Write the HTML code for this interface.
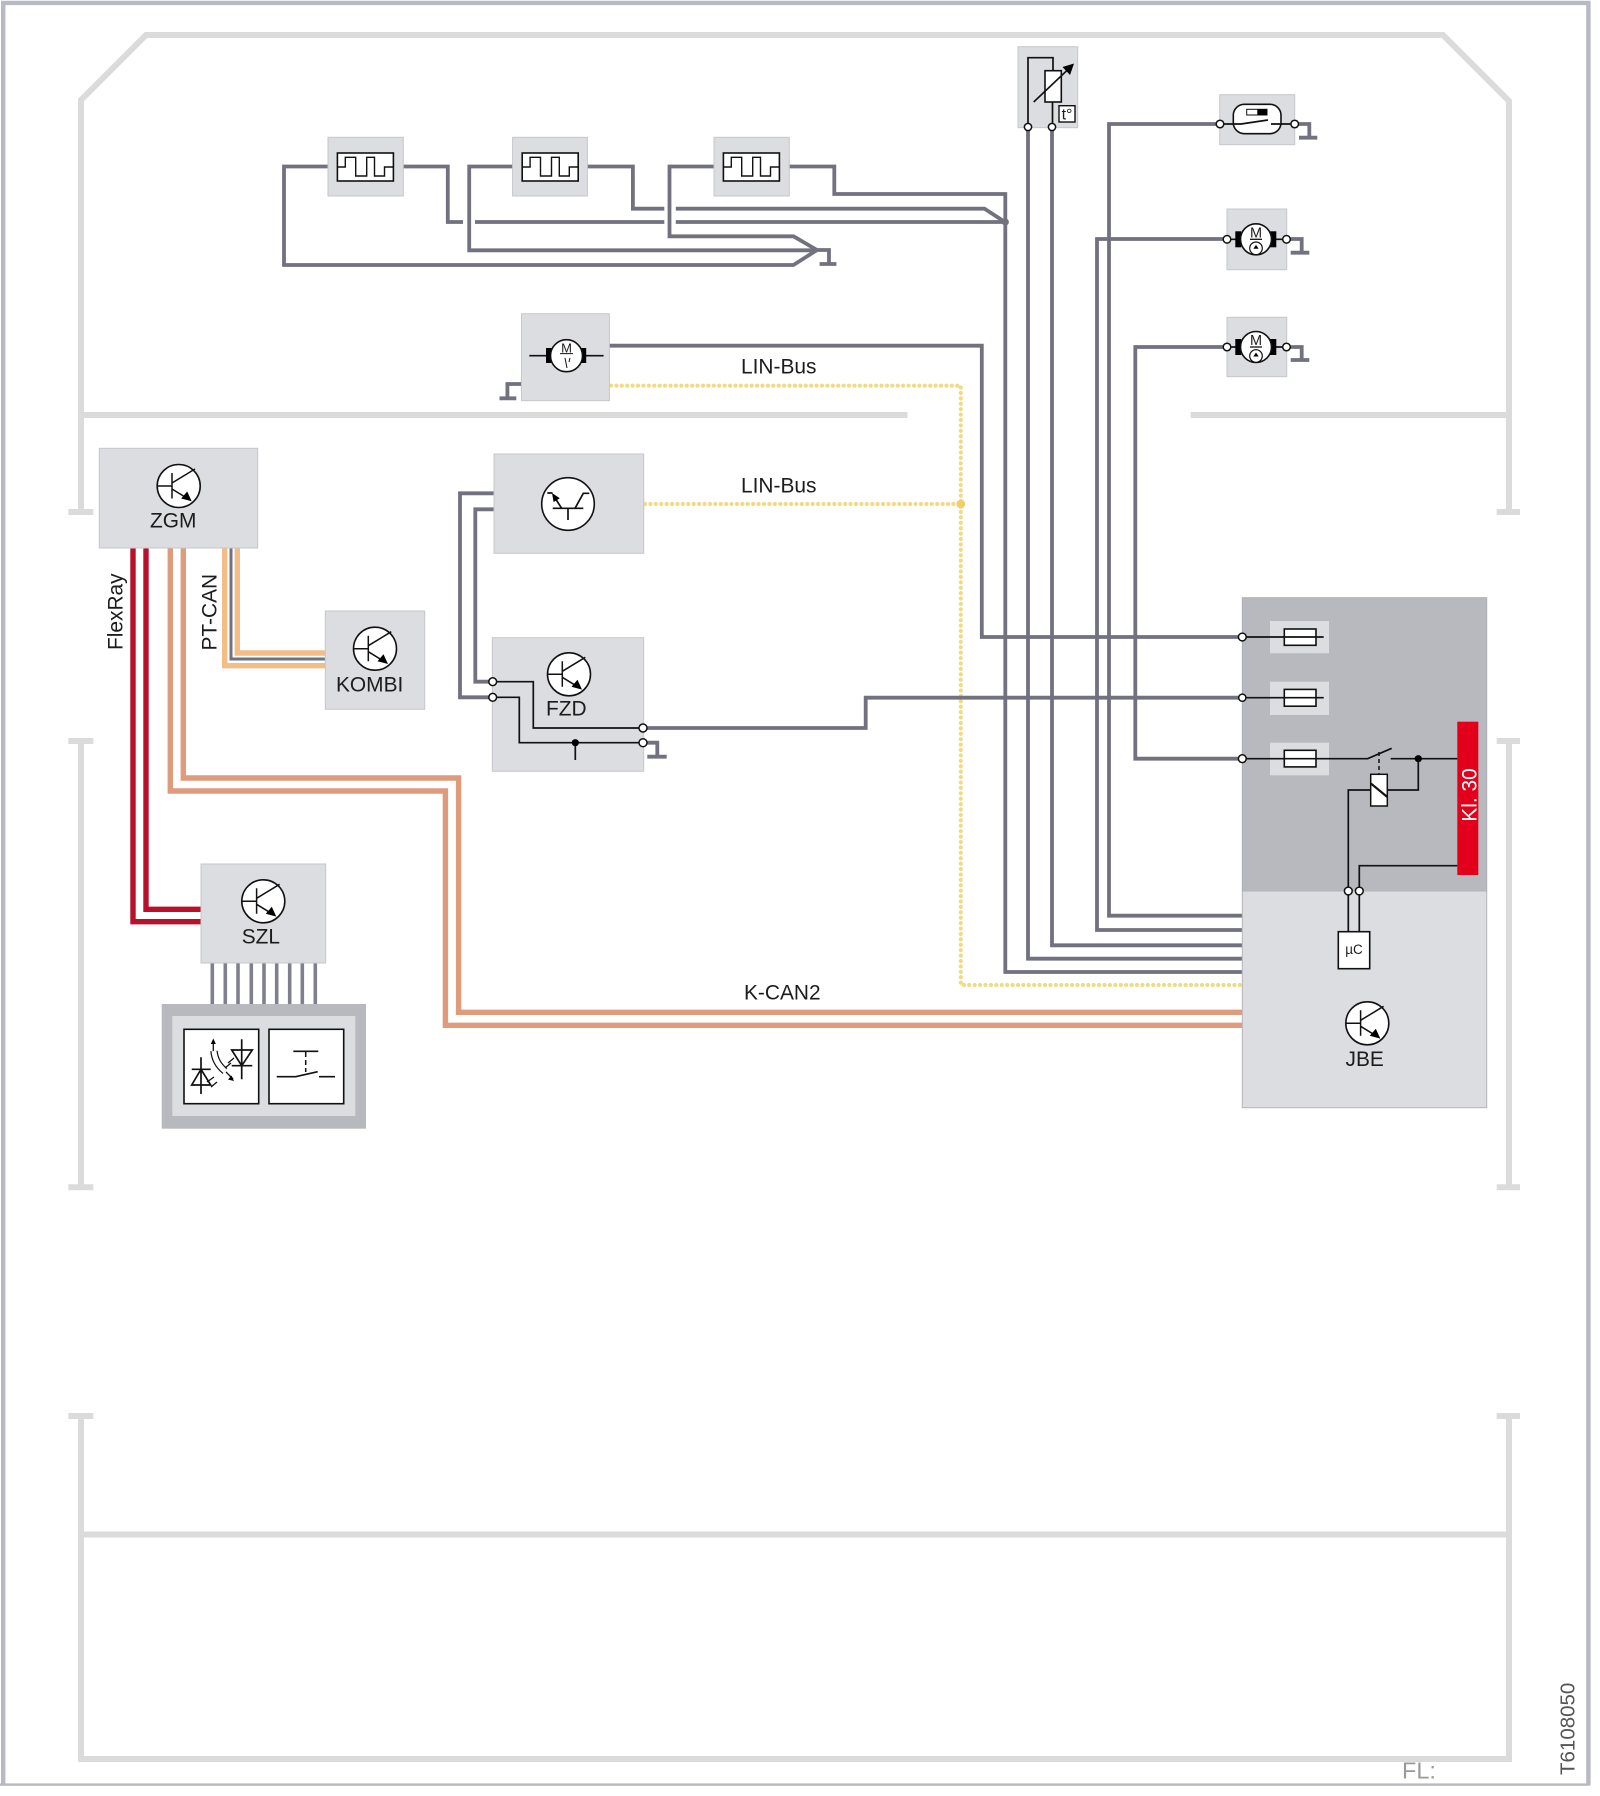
<!DOCTYPE html>
<html>
<head>
<meta charset="utf-8">
<style>
html,body{margin:0;padding:0;background:#fff;width:1600px;height:1796px;overflow:hidden}
svg{display:block}
text{font-family:"Liberation Sans",sans-serif;fill:#1c1c1c;font-size:20.9px}
.w{fill:none;stroke:#71717f;stroke-width:3.8;stroke-linejoin:miter}
.f{fill:none;stroke:#dadbda;stroke-width:6}
.k{fill:none;stroke:#111;stroke-width:1.7}
.b{fill:#dcdde1;stroke:#c6c7cb;stroke-width:1}
.n{fill:#fff;stroke:#111;stroke-width:1.5}
.y{fill:none;stroke:#f3d97f;stroke-width:4.2;stroke-linecap:round;stroke-dasharray:.01 5.4}
.fr{fill:none;stroke:#b8112c;stroke-width:5.4}
.or{fill:none;stroke:#e09a7c;stroke-width:5.4}
.pt{fill:none;stroke:#f2bd87;stroke-width:5.4}
</style>
</head>
<body>
<svg width="1600" height="1796" viewBox="0 0 1600 1796" xmlns="http://www.w3.org/2000/svg">
<defs>
<g id="tr">
<circle r="21.5" fill="#fff" stroke="#111" stroke-width="1.6"/>
<path d="M-21.5 0H-6.7M-6.7 -13V12.5M-6.7 -3L16.3 -17M-6.7 3L8 12" fill="none" stroke="#111" stroke-width="1.5"/>
<polygon points="13,15.3 2.5,12.5 8.5,5.5" fill="#000"/>
</g>
<g id="pw">
<rect x="0" y="0" width="56" height="28" fill="#fff" stroke="#111" stroke-width="1.6"/>
<path d="M0 14H7.9V4.3H18.3V23H29.3V4.3H37.1V23H47.1V14H56" fill="none" stroke="#111" stroke-width="1.4"/>
</g>
<g id="mo">
<rect x="-20.7" y="-8" width="6" height="16" fill="#000"/>
<rect x="14" y="-8" width="6.3" height="16" fill="#000"/>
<circle r="15.5" fill="#fff" stroke="#111" stroke-width="1.6"/>
<text x="0" y="-2" text-anchor="middle" style="font-size:14.5px">M</text>
<path d="M-6 0H6" stroke="#111" stroke-width="1.3"/>
<circle cx="0" cy="9" r="6.3" fill="#fff" stroke="#111" stroke-width="1.2"/>
<polygon points="0,5.5 -2.6,9.5 2.6,9.5" fill="#000"/>
</g>
</defs>

<!-- outer border -->
<path d="M3.2 1V1785M1 2.9H1590M1588.4 1V1785" fill="none" stroke="#b8b9c5" stroke-width="4.4"/>
<rect x="0" y="1783.4" width="1590" height="2.4" fill="#b8b9c0"/>

<!-- frame -->
<path class="f" d="M68.3 512H93.3M81 512V100L146 35H1443L1509 101V512M1496.7 512H1520"/>
<path class="f" d="M83 415H907.5M1190.7 415H1509"/>
<path class="f" d="M68.3 741H93.3M81 741V1187.3M68.3 1187.3H93.3"/>
<path class="f" d="M1496.7 741H1520M1509 741V1187.3M1496.7 1187.3H1520"/>
<path class="f" d="M68.3 1416H93.3M81 1416V1759H1509V1416M1496.7 1416H1520"/>
<path class="f" d="M81 1534.5H1509"/>

<!-- yellow dotted LIN -->
<path class="y" d="M611 385.7H960.8V985H1242"/>
<path class="y" d="M645 504H960.8"/>
<circle cx="960.8" cy="504" r="4.4" fill="#f2ce6a"/>

<!-- gray wires top -->
<path class="w" d="M328 166.5H284V265H793.5L817 250"/>
<path class="w" d="M513 166.5H469.2V250.3H817"/>
<path class="w" d="M714 166.5H669.5V236.3H793.5L817 250H829V264M819.6 264H836.4"/>
<path class="w" d="M403 166.5H447.8V222H463M475 222H664.3M675.8 222H1005"/>
<path class="w" d="M587 166.5H632.9V208.7H664.3M675.8 208.7H984.4L1005 222"/>
<path class="w" d="M789 166.5H834.3V194H1005.3V972H1242"/>
<circle cx="1005.3" cy="222" r="3.6" fill="#71717f"/>
<path class="w" d="M609 345.7H981.8V637H1242"/>
<path class="w" d="M521.5 384H507.4V398.3M499.5 398.3H516.3"/>
<path class="w" d="M1028 127V958.7H1242"/>
<path class="w" d="M1052 127V945.3H1242"/>
<path class="w" d="M1220 124H1109V915.7H1242"/>
<path class="w" d="M1227 239H1097V930H1242"/>
<path class="w" d="M1227 347H1135.3V758.7H1242"/>
<path class="w" d="M1295 124H1309.3V137.7M1299 137.7H1317.3"/>
<path class="w" d="M1287 239H1301.7V252.7M1290.7 252.7H1309.3"/>
<path class="w" d="M1287 347H1301.7V360M1290.7 360H1309.3"/>
<path class="w" d="M643 728H865.7V697.7H1242"/>
<path class="w" d="M643 742.7H657.3V756.7M647.3 756.7H666.7"/>
<path class="w" d="M494 493.3H460V697.3H492.7"/>
<path class="w" d="M494 509.3H475.3V681.7H492.7"/>

<!-- coloured buses -->
<path class="fr" d="M133 548V921.7H201"/>
<path class="fr" d="M146 548V909.3H201"/>
<path class="or" d="M170.3 548V791H445.4V1025.3H1242"/>
<path class="or" d="M183.3 548V778H458.6V1012.3H1242"/>
<path class="pt" d="M224.7 548V665.7H325.3"/>
<path class="pt" d="M237.3 548V653H325.3"/>
<path d="M231 548V659H325.3" fill="none" stroke="#71717f" stroke-width="3"/>

<!-- pulse boxes -->
<rect class="b" x="328" y="137.3" width="75.3" height="58.7"/>
<use href="#pw" x="337.4" y="153"/>
<rect class="b" x="512.6" y="137.3" width="74.8" height="58.7"/>
<use href="#pw" x="522.2" y="153"/>
<rect class="b" x="714" y="137.3" width="75.3" height="58.7"/>
<use href="#pw" x="723.4" y="153"/>

<!-- left motor -->
<rect class="b" x="521.5" y="313.7" width="87.9" height="87"/>
<path d="M529.3 355.7H603.6" stroke="#111" stroke-width="1.6"/>
<rect x="546" y="348" width="5.6" height="15" fill="#000"/>
<rect x="580.6" y="348" width="5.6" height="15" fill="#000"/>
<circle cx="566.5" cy="355.7" r="16" fill="#fff" stroke="#111" stroke-width="1.6"/>
<text x="566.5" y="352.7" text-anchor="middle" style="font-size:13px">M</text>
<path d="M560 353.6H573M565 358L567 368M570 358L569 362" fill="none" stroke="#111" stroke-width="1"/>

<!-- thermistor -->
<rect class="b" x="1018" y="46.7" width="59.7" height="81"/>
<path class="k" d="M1028 127V57.7H1053V70.7M1052.5 102V127"/>
<rect x="1045" y="70.7" width="16.3" height="31.3" fill="#fff" stroke="#111" stroke-width="1.6"/>
<path d="M1033.7 102L1068 69.5" stroke="#111" stroke-width="1.6"/>
<polygon points="1074,63.5 1070,75 1062.5,67" fill="#000"/>
<rect x="1059" y="105.7" width="16" height="16.3" fill="#fff" stroke="#111" stroke-width="1.4"/>
<text x="1067" y="119.5" text-anchor="middle" style="font-size:16px">t°</text>
<circle class="n" cx="1028" cy="127" r="3.6"/>
<circle class="n" cx="1052" cy="127" r="3.6"/>

<!-- switch -->
<rect class="b" x="1219.7" y="94.7" width="75" height="50"/>
<rect x="1233.3" y="104.3" width="47.7" height="29.4" rx="11" fill="#fff" stroke="#111" stroke-width="1.6"/>
<rect x="1246.7" y="109.3" width="20.3" height="5.7" fill="#fff" stroke="#111" stroke-width="1"/>
<rect x="1257.3" y="109.3" width="9.7" height="5.7" fill="#000"/>
<path class="k" d="M1220 124H1241L1268 120M1271 124H1295"/>
<circle class="n" cx="1220" cy="124" r="3.8"/>
<circle class="n" cx="1294.7" cy="124" r="3.8"/>

<!-- motors right -->
<rect class="b" x="1227" y="209" width="59.7" height="60.7"/>
<path class="k" d="M1227 239.3H1287"/>
<use href="#mo" x="1256" y="239.3"/>
<circle class="n" cx="1227" cy="239.3" r="3.8"/>
<circle class="n" cx="1286.5" cy="239.3" r="3.8"/>
<rect class="b" x="1227" y="317.3" width="59.7" height="59.4"/>
<path class="k" d="M1227 347H1287"/>
<use href="#mo" x="1256" y="347"/>
<circle class="n" cx="1227" cy="347" r="3.8"/>
<circle class="n" cx="1286.5" cy="347" r="3.8"/>

<!-- ZGM -->
<rect class="b" x="99.3" y="448.3" width="158.4" height="99.7"/>
<use href="#tr" x="178.7" y="486"/>
<text x="150" y="527.3">ZGM</text>

<!-- KOMBI -->
<rect class="b" x="325.3" y="611" width="99.4" height="98.3"/>
<use href="#tr" x="375" y="648.7"/>
<text x="336" y="691.7">KOMBI</text>

<!-- FET -->
<rect class="b" x="494" y="454" width="149.7" height="99.3"/>
<circle cx="568" cy="504" r="26.3" fill="#fff" stroke="#111" stroke-width="1.6"/>
<path class="k" d="M552.7 508.3H583.3M568 508.3V520M561.7 508.3L555 498M547.3 493L552.5 493M575 508.3L583.3 493.3H589.3"/>
<polygon points="552,493 559.8,498.3 553.6,502" fill="#000"/>

<!-- FZD -->
<rect class="b" x="492.3" y="637.7" width="151.4" height="133.6"/>
<use href="#tr" x="569" y="674.3"/>
<text x="546" y="715.7">FZD</text>
<path class="k" d="M492.7 681.7H533.3V728H643M492.7 697.3H519.3V742.7H643M575.3 742.7V760"/>
<circle cx="575.3" cy="742.7" r="3.6" fill="#000"/>
<circle class="n" cx="492.7" cy="681.7" r="3.9"/>
<circle class="n" cx="492.7" cy="697.3" r="3.9"/>
<circle class="n" cx="643" cy="728" r="4"/>
<circle class="n" cx="643" cy="742.7" r="4"/>

<!-- SZL -->
<path d="M212.3 963V1004M225.3 963V1004M238 963V1004M251.3 963V1004M264 963V1004M276.7 963V1004M289.7 963V1004M302.3 963V1004M315.3 963V1004" stroke="#80808d" stroke-width="3.6"/>
<rect class="b" x="201" y="864" width="124.7" height="99"/>
<use href="#tr" x="263.3" y="901.3"/>
<text x="241.7" y="943.3">SZL</text>
<rect x="161.7" y="1004" width="204.3" height="124.7" fill="#b8b9be"/>
<rect x="172.3" y="1016" width="183" height="100" fill="#dcdde1"/>
<rect x="184" y="1029.3" width="74.7" height="74.4" fill="#fff" stroke="#111" stroke-width="1.6"/>
<rect x="269" y="1029.3" width="74.7" height="74.4" fill="#fff" stroke="#111" stroke-width="1.6"/>
<path class="k" d="M293.3 1051.3H318.3M276.7 1076.7H295.7L317.7 1071.7M319 1076.7H335"/>
<path d="M305.7 1052V1072" stroke="#111" stroke-width="1.5" stroke-dasharray="5 3"/>
<path class="k" d="M201 1057.3V1094M191.7 1069.3H210.7M201 1069.3L191.7 1085H210.7Z"/>
<path class="k" d="M241.7 1039.3V1079.3M231.7 1050H252.3L241.7 1065.7ZM231.7 1065.7H252.3"/>
<path d="M214 1051Q215 1063 225 1071" fill="none" stroke="#111" stroke-width="7.5"/>
<path d="M214 1051Q215 1063 225 1071" fill="none" stroke="#fff" stroke-width="5"/>
<path d="M213.3 1051V1042M214 1077L207 1082M231 1063L225 1068M234 1058L228 1063M226 1072L233 1079M217 1082L211 1087" fill="none" stroke="#111" stroke-width="1.3"/>
<polygon points="213.3,1038.5 210.8,1044 215.8,1044" fill="#000"/>
<polygon points="234,1081 228,1079.5 231.5,1075.5" fill="#000"/>

<!-- JBE -->
<rect x="1242.3" y="597.7" width="244.4" height="293.3" fill="#b8b9be" stroke="#aeafb4" stroke-width="1"/>
<rect x="1242.3" y="891" width="244.4" height="216.7" fill="#dcdde1" stroke="#b4b5ba" stroke-width="1"/>
<rect x="1270" y="621" width="59" height="32.3" fill="#dcdde1"/>
<rect x="1270" y="681.7" width="59" height="33.3" fill="#dcdde1"/>
<rect x="1270" y="742.7" width="59" height="32.6" fill="#dcdde1"/>
<rect x="1284.3" y="629" width="31.7" height="16.3" fill="#fff" stroke="#111" stroke-width="1.6"/>
<rect x="1284.3" y="689.4" width="31.7" height="16.8" fill="#fff" stroke="#111" stroke-width="1.6"/>
<rect x="1284.3" y="750.3" width="31.7" height="16.6" fill="#fff" stroke="#111" stroke-width="1.6"/>
<path class="k" d="M1242 637H1323.7M1242 697.7H1323.7M1242 758.7H1367.7L1391.7 748.3M1390.7 758.7H1457.3M1418.3 758.7V790H1387.3M1370.7 790H1348.3V931.7M1457.3 865.7H1359.3V931.7"/>
<circle class="n" cx="1242.3" cy="637" r="3.9"/>
<circle class="n" cx="1242.3" cy="697.7" r="3.6"/>
<circle class="n" cx="1242.3" cy="758.7" r="3.9"/>
<path d="M1379 752V774" stroke="#111" stroke-width="1.5" stroke-dasharray="4 3"/>
<rect x="1370.7" y="774.3" width="16.6" height="31.7" fill="#fff" stroke="#111" stroke-width="1.5"/>
<path d="M1370.7 783.3L1387.3 797" stroke="#111" stroke-width="2.2"/>
<circle cx="1418.3" cy="758.7" r="3.6" fill="#000"/>
<rect x="1457.3" y="721.7" width="21" height="153.3" fill="#e2001a"/>
<text transform="translate(1476.7 821.7) rotate(-90)" style="fill:#fff">Kl. 30</text>
<circle class="n" cx="1348.3" cy="891" r="3.9"/>
<circle class="n" cx="1359.3" cy="891" r="3.9"/>
<rect x="1338.3" y="931.7" width="31.4" height="37" fill="#fff" stroke="#111" stroke-width="1.6"/>
<text x="1354" y="954" text-anchor="middle" style="font-size:13.5px">µC</text>
<use href="#tr" x="1367.3" y="1023.3"/>
<text x="1345.5" y="1066">JBE</text>

<!-- labels -->
<text x="741" y="373.7">LIN-Bus</text>
<text x="741" y="492.7">LIN-Bus</text>
<text x="744" y="999.5">K-CAN2</text>
<text transform="translate(122.3 650) rotate(-90)">FlexRay</text>
<text transform="translate(216.7 650.5) rotate(-90)">PT-CAN</text>
<text x="1402" y="1778.3" style="fill:#9a9a9a;font-size:23.5px">FL:</text>
<text transform="translate(1574.3 1775) rotate(-90)" style="fill:#555;font-size:20.5px">T6108050</text>
</svg>
</body>
</html>
